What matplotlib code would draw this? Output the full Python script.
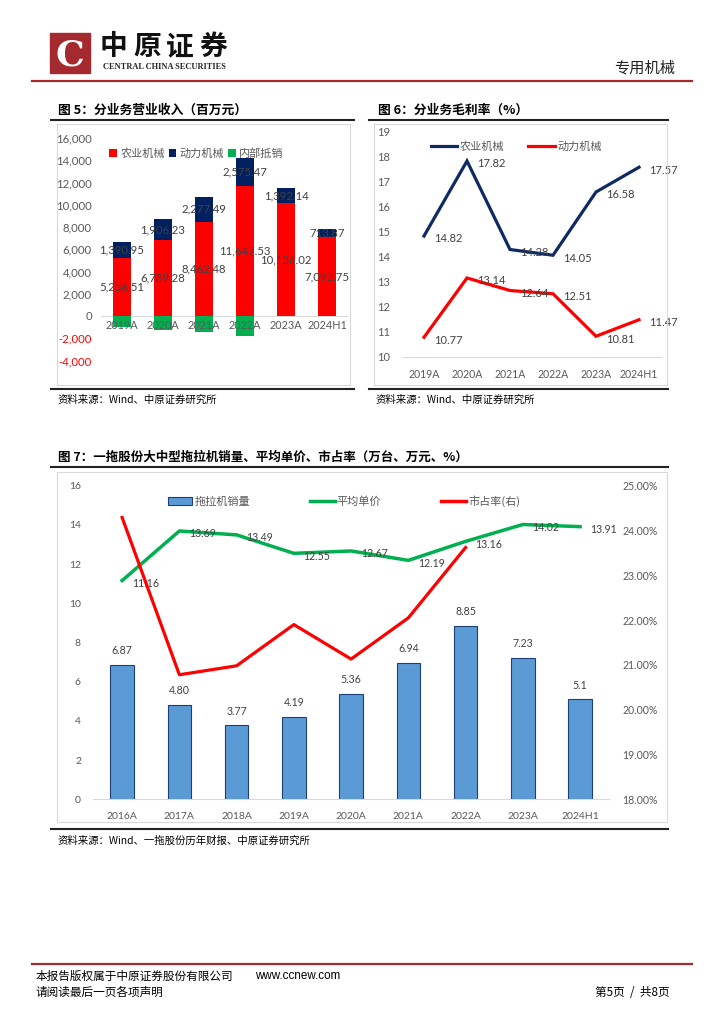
import matplotlib
matplotlib.use("Agg")
import matplotlib.pyplot as plt
from matplotlib.patches import Rectangle, Patch
from matplotlib.lines import Line2D
from matplotlib.ticker import FuncFormatter

plt.rcParams['font.family'] = ['Lato', 'Noto Sans CJK SC', 'DejaVu Sans']

# ---------------- data ----------------
cats5 = ['2019A', '2020A', '2021A', '2022A', '2023A', '2024H1']
agri_rev = [5256.51, 6789.28, 8462.48, 11647.53, 10136.02, 7092.75]
power_rev = [1390.95, 1906.23, 2277.49, 2575.47, 1392.14, 713.87]
offset_rev = [-990, -1260, -1440, -1800, 0, 0]

cats6 = ['2019A', '2020A', '2021A', '2022A', '2023A', '2024H1']
agri_gm = [14.82, 17.82, 14.28, 14.05, 16.58, 17.57]
power_gm = [10.77, 13.14, 12.64, 12.51, 10.81, 11.47]

cats7 = ['2016A', '2017A', '2018A', '2019A', '2020A', '2021A', '2022A', '2023A', '2024H1']
sales = [6.87, 4.80, 3.77, 4.19, 5.36, 6.94, 8.85, 7.23, 5.1]
sales_lbl = ['6.87', '4.80', '3.77', '4.19', '5.36', '6.94', '8.85', '7.23', '5.1']
avg_price = [11.16, 13.69, 13.49, 12.55, 12.67, 12.19, 13.16, 14.02, 13.91]
mkt_share = [24.29, 20.78, 20.98, 21.90, 21.13, 22.05, 23.62]

W, H = 724, 1024
fig = plt.figure(figsize=(W / 100, H / 100), dpi=100)
fig.patch.set_facecolor('white')


def rect(x0, y0, x1, y1):
    return [x0 / W, 1 - y1 / H, (x1 - x0) / W, (y1 - y0) / H]


def ftext(x, y, s, **kw):
    fig.text(x / W, 1 - y / H, s, **kw)


def hline(x0, x1, y, color, lw):
    fig.add_artist(Line2D([x0 / W, x1 / W], [1 - y / H, 1 - y / H], color=color, lw=lw,
                          transform=fig.transFigure))


def box(x0, y0, x1, y1):
    fig.add_artist(Rectangle((x0 / W, 1 - y1 / H), (x1 - x0) / W, (y1 - y0) / H,
                             fill=False, ec='#D9D9D9', lw=0.8, transform=fig.transFigure))


cjk = ['Noto Sans CJK SC', 'DejaVu Sans']
TXT = '#595959'
LBL = '#404040'

# ---------------- header ----------------
fig.add_artist(Rectangle((50 / W, 1 - 73 / H), 40 / W, 40 / H, color='#A52A2F',
                         transform=fig.transFigure))
ftext(70, 55, 'C', fontsize=26, color='white', ha='center', va='center', fontweight='bold',
      family=['DejaVu Serif'])
for k, ch in enumerate('中原证券'):
    ftext(100 + k * 33, 47, ch, fontsize=20, fontweight='bold', family=cjk, va='center',
          color='#111111')
ftext(103, 67, 'CENTRAL CHINA SECURITIES', fontsize=6.0, fontweight='bold', va='center',
      family=['Liberation Serif'], color='#222222')
ftext(675, 68, '专用机械', fontsize=11, family=cjk, ha='right', va='center', color='#222222')
hline(32, 692, 81, '#A52A2F', 1.6)

# ---------------- titles / lines ----------------
ftext(58, 110, '图 5：分业务营业收入（百万元）', fontsize=9.2, fontweight='bold', family=cjk, va='center')
ftext(378, 110, '图 6：分业务毛利率（%）', fontsize=9.2, fontweight='bold', family=cjk, va='center')
hline(51, 354, 120, '#222222', 1.5)
hline(369, 668, 120, '#222222', 1.5)
box(57, 124, 350, 385)
box(374, 124, 667, 385)
hline(51, 354, 389, '#222222', 1.5)
hline(369, 668, 389, '#222222', 1.5)
ftext(58, 400, '资料来源：Wind、中原证券研究所', fontsize=7.5, family=cjk, va='center')
ftext(376, 400, '资料来源：Wind、中原证券研究所', fontsize=7.5, family=cjk, va='center')

ftext(58, 457, '图 7：一拖股份大中型拖拉机销量、平均单价、市占率（万台、万元、%）', fontsize=9.0,
      fontweight='bold', family=cjk, va='center')
hline(51, 668, 467, '#222222', 1.5)
box(57, 472, 667, 822)
hline(51, 668, 829, '#222222', 1.5)
ftext(58, 841, '资料来源：Wind、一拖股份历年财报、中原证券研究所', fontsize=7.5, family=cjk, va='center')

# ---------------- footer ----------------
hline(32, 692, 964, '#A52A2F', 1.6)
ftext(36, 976, '本报告版权属于中原证券股份有限公司', fontsize=8.4, family=cjk, va='center')
ftext(255, 976, 'www.ccnew.com', fontsize=8.4, family=['Liberation Sans'], va='center')
ftext(36, 992, '请阅读最后一页各项声明', fontsize=8.4, family=cjk, va='center')
ftext(670, 992, '第5页  /  共8页', fontsize=8.4, family=cjk, ha='right', va='center')

# ---------------- chart 5 ----------------
ax5 = fig.add_axes(rect(101.5, 138, 347.5, 360.5))
x5 = range(len(cats5))
bw = 0.42
ax5.bar(x5, agri_rev, bw, color='#FF0000', label='农业机械', zorder=2)
ax5.bar(x5, power_rev, bw, bottom=agri_rev, color='#002060', label='动力机械', zorder=2)
ax5.bar(x5, offset_rev, bw, color='#00B050', label='内部抵销', zorder=2)
for i in x5:
    ax5.text(i, agri_rev[i] / 2, f'{agri_rev[i]:,.2f}', ha='center', va='center', fontsize=8.2,
             color=LBL, zorder=3)
    ax5.text(i, agri_rev[i] + power_rev[i] / 2, f'{power_rev[i]:,.2f}', ha='center', va='center',
             fontsize=8.2, color=LBL, zorder=3)
    ax5.text(i, -380, cats5[i], ha='center', va='top', fontsize=7.8, color=TXT, zorder=3)
ax5.set_xlim(-0.5, len(cats5) - 0.5)
ax5.set_ylim(-4000, 16000)
ax5.set_yticks(range(-4000, 16001, 2000))
ax5.yaxis.set_major_formatter(FuncFormatter(lambda v, p: f'{int(v):,}'))
ax5.tick_params(axis='y', length=0, labelsize=8.2, labelcolor=TXT, pad=7)
for t, v in zip(ax5.get_yticklabels(), range(-4000, 16001, 2000)):
    if v < 0:
        t.set_color('#FF0000')
ax5.set_xticks([])
for s in ax5.spines.values():
    s.set_visible(False)
ax5.axhline(0, color='#D9D9D9', lw=0.8, zorder=1)
ax5.legend(loc='upper left', bbox_to_anchor=(-0.01, 1.0), ncol=3, frameon=False,
           handlelength=0.7, handleheight=0.7, handletextpad=0.3, columnspacing=0.35,
           prop={'family': cjk, 'size': 8.0}, labelcolor=TXT)

# ---------------- chart 6 ----------------
ax6 = fig.add_axes(rect(402.5, 131.5, 660.5, 356.5))
x6 = range(len(cats6))
ax6.plot(x6, agri_gm, color='#0F2A63', lw=2.3, label='农业机械', solid_joinstyle='miter')
ax6.plot(x6, power_gm, color='#FF0000', lw=2.3, label='动力机械', solid_joinstyle='miter')
for i in x6:
    ax6.annotate(f'{agri_gm[i]:.2f}', (i, agri_gm[i]), xytext=(7, -2), textcoords='offset points',
                 ha='left', va='center', fontsize=8.0, color=LBL)
    ax6.annotate(f'{power_gm[i]:.2f}', (i, power_gm[i]), xytext=(7, -2), textcoords='offset points',
                 ha='left', va='center', fontsize=8.0, color=LBL)
ax6.set_xlim(-0.5, len(cats6) - 0.5)
ax6.set_ylim(10, 19)
ax6.set_yticks(range(10, 20))
ax6.set_xticks(list(x6))
ax6.set_xticklabels(cats6)
ax6.tick_params(axis='both', length=0, labelsize=7.6, labelcolor=TXT)
ax6.tick_params(axis='y', pad=9, labelsize=8.0)
ax6.tick_params(axis='x', pad=9)
for s in ax6.spines.values():
    s.set_visible(False)
ax6.spines['bottom'].set_visible(True)
ax6.spines['bottom'].set_color('#D9D9D9')
ax6.legend(loc='upper left', bbox_to_anchor=(0.07, 1.0), ncol=2, frameon=False,
           handlelength=2.4, handletextpad=0.2, columnspacing=2.2,
           prop={'family': cjk, 'size': 8.0}, labelcolor=TXT)

# ---------------- chart 7 ----------------
ax7 = fig.add_axes(rect(93.5, 485.7, 608.7, 799.3))
x7 = list(range(len(cats7)))
ax7.bar(x7, sales, 0.41, color='#5B9BD5', edgecolor='#1F3F7A', lw=0.8, label='拖拉机销量', zorder=2)
for i in x7:
    ax7.text(i, sales[i] + 0.45, sales_lbl[i], ha='center', va='bottom', fontsize=7.6, color=LBL)
ax7.plot(x7, avg_price, color='#00B050', lw=2.5, label='平均单价', zorder=3)
for i in x7:
    ax7.annotate(f'{avg_price[i]:.2f}', (i, avg_price[i]), xytext=(7, -2), textcoords='offset points',
                 ha='left', va='center', fontsize=7.6, color=LBL, zorder=4)
ax7.set_xlim(-0.5, len(cats7) - 0.5)
ax7.set_ylim(0, 16)
ax7.set_yticks(range(0, 17, 2))
ax7.set_xticks(x7)
ax7.set_xticklabels(cats7)
ax7.tick_params(axis='both', length=0, labelsize=7.5, labelcolor=TXT)
ax7.tick_params(axis='y', pad=9)
ax7.tick_params(axis='x', pad=9)
for s in ax7.spines.values():
    s.set_visible(False)
ax7.spines['bottom'].set_visible(True)
ax7.spines['bottom'].set_color('#D9D9D9')

ax7r = ax7.twinx()
ax7r.plot(range(len(mkt_share)), mkt_share, color='#FF0000', lw=2.3, label='市占率(右)', zorder=3)
ax7r.set_ylim(18, 25)
ax7r.set_yticks(range(18, 26))
ax7r.yaxis.set_major_formatter(FuncFormatter(lambda v, p: f'{v:.2f}%'))
ax7r.tick_params(axis='y', length=0, labelsize=7.6, labelcolor=TXT, pad=10)
for s in ax7r.spines.values():
    s.set_visible(False)

handles = [Patch(facecolor='#5B9BD5', edgecolor='#1F3F7A', lw=0.8),
           Line2D([], [], color='#00B050', lw=2.5),
           Line2D([], [], color='#FF0000', lw=2.5)]
ax7r.legend(handles, ['拖拉机销量', '平均单价', '市占率(右)'], loc='upper left',
            bbox_to_anchor=(0.125, 1.0), ncol=3, frameon=False, handlelength=2.2, handleheight=0.7,
            handletextpad=0.2, columnspacing=5.4, prop={'family': cjk, 'size': 8.0}, labelcolor=TXT)

fig.savefig('out.png', dpi=100, facecolor='white')
